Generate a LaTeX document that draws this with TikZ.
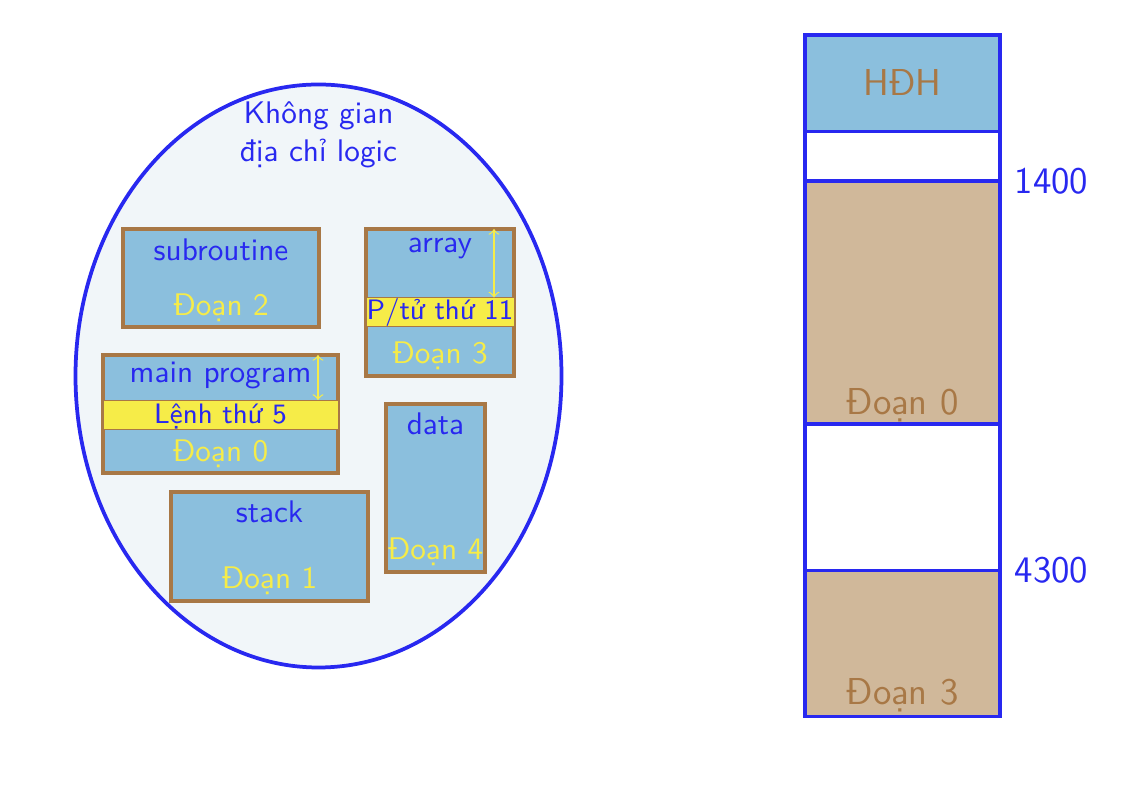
\documentclass[tikz,border=0pt]{standalone}
\usepackage{fontspec}
\usetikzlibrary{shapes.geometric,positioning}

\definecolor{lineblue}{RGB}{40,40,240}
\definecolor{segblue}{RGB}{139,191,221}
\definecolor{segbrown}{RGB}{168,120,70}
\definecolor{segyellow}{RGB}{246,236,72}
\definecolor{segtan}{RGB}{208,184,154}
\definecolor{spacefill}{RGB}{241,246,249}
\newcommand{\pxu}{0.32pt}

\begin{document}
\begin{tikzpicture}[x=0.32pt,y=-0.32pt,font=\sffamily\fontsize{10}{12}\selectfont]

      \tikzstyle{SegBox} = [
      rectangle,
      draw=segbrown,
      line width=1pt,
      fill=segblue,
      anchor=north west,
      inner sep=0pt,
      outer sep=0pt
      ]
      \tikzstyle{Band} = [rectangle, draw=segbrown, line width=0.3pt, fill=segyellow, anchor=north west, inner sep=0pt, outer sep=0pt]
      \tikzstyle{NameText} = [text=lineblue, anchor=base, inner sep=0pt]
      \tikzstyle{ItemText} = [NameText, font=\sffamily\fontsize{9}{11}\selectfont]
      \tikzstyle{SegText} = [text=segyellow, anchor=base, inner sep=0pt]
      \tikzstyle{IdxArrow} = [<->, draw=segyellow, line width=0.4pt]
      \tikzstyle{MemBlock} = [rectangle, draw=lineblue, line width=1pt, minimum width=195*\pxu, inner sep=0pt, outer sep=0pt, font=\sffamily\fontsize{12}{14}\selectfont]

      \useasboundingbox (0,0) rectangle (1130,788);

      % logical address space
      \node (LogicSpace) [ellipse, draw=lineblue, line width=1.2pt, fill=spacefill,
        minimum width=486*\pxu, minimum height=583*\pxu] at (318.5,376) {};
      \node (SpaceTitle) [NameText] at (318.5,124) {Không gian};
      \node (SpaceTitleB) [NameText] at (318.5,162) {địa chỉ logic};

      % segments
      \node (SubroutineBox) [SegBox, minimum width=196*\pxu, minimum height=98*\pxu] at (123,229) {};
      \node (SubroutineName) [NameText] at (221,261) {subroutine};
      \node (SubroutineSeg) [SegText] at (221,316) {Đoạn 2};

      \node (ArrayBox) [SegBox, minimum width=148*\pxu, minimum height=147*\pxu] at (366,229) {};
      \node (ArrayBand) [Band, minimum width=148*\pxu, minimum height=29*\pxu] at (366,297.5) {};
      \node (ArrayName) [NameText] at (440,253) {array};
      \node (ArrayItem) [ItemText] at (440,320) {P/tử thứ 11};
      \node (ArraySeg) [SegText] at (440,364) {Đoạn 3};

      \node (MainBox) [SegBox, minimum width=235*\pxu, minimum height=118*\pxu] at (103,355) {};
      \node (MainBand) [Band, minimum width=235*\pxu, minimum height=29*\pxu] at (103,400) {};
      \node (MainName) [NameText] at (220.5,383) {main program};
      \node (MainItem) [ItemText] at (220.5,424) {Lệnh thứ 5};
      \node (MainSeg) [SegText] at (220.5,462) {Đoạn 0};

      \node (DataBox) [SegBox, minimum width=99*\pxu, minimum height=168*\pxu] at (386,404) {};
      \node (DataName) [NameText] at (435.5,435) {data};
      \node (DataSeg) [SegText] at (435.5,560) {Đoạn 4};

      \node (StackBox) [SegBox, minimum width=197*\pxu, minimum height=109*\pxu] at (171,492) {};
      \node (StackName) [NameText] at (269.5,523) {stack};
      \node (StackSeg) [SegText] at (269.5,589) {Đoạn 1};

      \draw [IdxArrow] ([xshift=-20*\pxu]ArrayBox.north east) -- ([xshift=-20*\pxu]ArrayBand.north east);
      \draw [IdxArrow] ([xshift=-20*\pxu]MainBox.north east) -- ([xshift=-20*\pxu]MainBand.north east);

      % physical memory
      \node (MemOS) [MemBlock, fill=segblue, minimum height=96.7*\pxu, anchor=north west] at (805,35) {};
      \node (MemGapA) [MemBlock, fill=white, minimum height=49.3*\pxu, below=0pt of MemOS] {};
      \node (MemSegA) [MemBlock, fill=segtan, minimum height=243*\pxu, below=0pt of MemGapA] {};
      \node (MemGapB) [MemBlock, fill=white, minimum height=146.7*\pxu, below=0pt of MemSegA] {};
      \node (MemSegB) [MemBlock, fill=segtan, minimum height=146*\pxu, below=0pt of MemGapB] {};

      \node (MemOSText) [text=segbrown, anchor=base, inner sep=0pt, font=\sffamily\fontsize{12}{14}\selectfont] at (902.5,96) {HĐH};
      \node (MemSegAText) [text=segbrown, anchor=base, inner sep=0pt, font=\sffamily\fontsize{12}{14}\selectfont] at (902.5,415) {Đoạn 0};
      \node (MemSegBText) [text=segbrown, anchor=base, inner sep=0pt, font=\sffamily\fontsize{12}{14}\selectfont] at (902.5,705) {Đoạn 3};

      \node (AddrA) [anchor=west, text=lineblue, inner sep=4.5pt, font=\sffamily\fontsize{12}{14}\selectfont] at (MemGapA.south east) {1400};
      \node (AddrB) [anchor=west, text=lineblue, inner sep=4.5pt, font=\sffamily\fontsize{12}{14}\selectfont] at (MemGapB.south east) {4300};

    \end{tikzpicture}
\end{document}
